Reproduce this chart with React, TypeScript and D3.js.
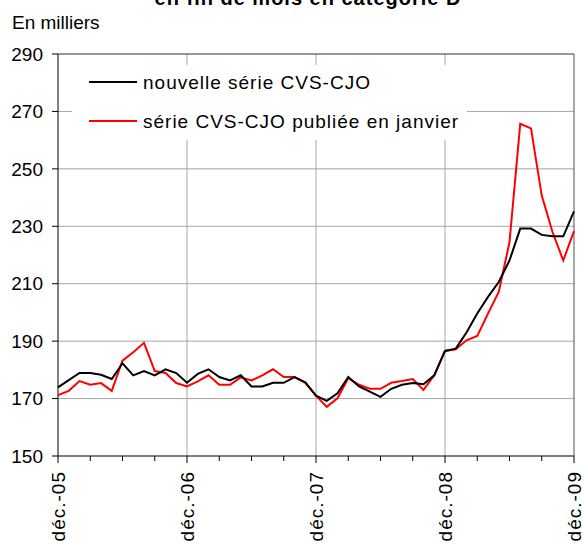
import { line, scaleLinear } from "d3";

const width = 582;
const height = 544;
const left = 58;
const right = 574;
const top = 54;
const bottom = 456;

const yTicks = [150, 170, 190, 210, 230, 250, 270, 290];
const yearLabels = ["déc.-05", "déc.-06", "déc.-07", "déc.-08", "déc.-09"];
const seriesNames = ["nouvelle série CVS-CJO", "série CVS-CJO publiée en janvier"];
const seriesColors = ["#000000", "#ff0000"];

// monthly values, déc. 2005 -> déc. 2009 (thousands)
const nouvelleSerie = [
  173.9, 176.4, 178.9, 178.9, 178.3, 176.8, 182.3, 178.1, 179.6, 178.1, 180.2, 178.9,
  175.5, 178.6, 180.2, 177.5, 176.3, 178.1, 174.2, 174.2, 175.5, 175.5, 177.5, 175.7,
  171.0, 169.2, 171.8, 177.5, 174.2, 172.4, 170.6, 173.4, 174.8, 175.4, 175.0, 178.1,
  186.6, 187.4, 193.0, 199.6, 205.4, 210.6, 218.1, 229.2, 229.2, 227.0, 226.5, 226.5,
  235.2,
];
const seriePubliee = [
  171.2, 172.7, 176.1, 174.8, 175.4, 172.7, 183.2, 186.1, 189.4, 179.6, 178.9, 175.4,
  174.2, 176.0, 178.1, 174.8, 174.8, 177.4, 176.3, 178.1, 180.2, 177.5, 177.5, 175.5,
  171.0, 167.1, 170.1, 177.1, 174.8, 173.4, 173.4, 175.5, 176.1, 176.8, 173.0, 178.1,
  186.6, 187.2, 190.3, 191.8, 199.6, 207.1, 224.5, 265.7, 264.1, 240.7, 228.0, 218.1,
  228.3,
];

const font = "'Liberation Sans', Arial, sans-serif";

export default function App() {
  const n = nouvelleSerie.length;
  const x = scaleLinear().domain([0, n - 1]).range([left, right]);
  const y = scaleLinear().domain([150, 290]).range([bottom, top]);
  const path = line<number>()
    .x((_, i) => x(i))
    .y((d) => y(d));
  const months = Array.from({ length: n }, (_, i) => i);
  const quarterTicks = months.filter((i) => i % 3 === 0);
  const yearTicks = months.filter((i) => i % 12 === 0);

  return (
    <svg
      width={width}
      height={height}
      style={{ position: "absolute", left: 0, top: 0, background: "#fff" }}
      fontFamily={font}
    >
      <text
        x={308}
        y={5}
        textAnchor="middle"
        fontSize={20}
        fontWeight="bold"
        letterSpacing={1}
      >
        en fin de mois en catégorie D
      </text>
      <text x={12} y={29} fontSize={19}>
        En milliers
      </text>

      {/* grid */}
      {yTicks.slice(1, -1).map((t) => (
        <line key={t} x1={left} x2={right} y1={y(t)} y2={y(t)} stroke="#a6a6a6" />
      ))}
      {yearTicks.slice(1, -1).map((i) => (
        <line key={i} x1={x(i)} x2={x(i)} y1={top} y2={bottom} stroke="#a6a6a6" />
      ))}
      <line x1={left} x2={right} y1={top} y2={top} stroke="#303030" />
      <line x1={right} x2={right} y1={top} y2={bottom} stroke="#505050" />

      {/* legend */}
      <rect x={72} y={65} width={395} height={75} fill="#fff" />
      {seriesNames.map((name, k) => (
        <g key={name} transform={`translate(89, ${82 + k * 39})`}>
          <line x1={0} x2={48} y1={0} y2={0} stroke={seriesColors[k]} strokeWidth={2} />
          <text x={54} y={0} dy="0.35em" fontSize={19} letterSpacing={1}>
            {name}
          </text>
        </g>
      ))}

      {/* axes */}
      <line x1={left} x2={left} y1={top} y2={bottom} stroke="#000" />
      <line x1={left} x2={right} y1={bottom} y2={bottom} stroke="#000" />
      {yTicks.map((t) => (
        <g key={t}>
          <line x1={left - 6} x2={left} y1={y(t)} y2={y(t)} stroke="#000" />
          <text x={43} y={y(t)} dy="0.35em" textAnchor="end" fontSize={19}>
            {t}
          </text>
        </g>
      ))}
      {quarterTicks.map((i) => (
        <line
          key={i}
          x1={x(i)}
          x2={x(i)}
          y1={bottom}
          y2={bottom + (i % 12 === 0 ? 7 : 5)}
          stroke="#000"
        />
      ))}
      {yearTicks.map((i, k) => (
        <text
          key={i}
          transform={`translate(${x(i)}, 471) rotate(-90)`}
          textAnchor="end"
          dy="0.35em"
          fontSize={19}
          letterSpacing={1}
        >
          {yearLabels[k]}
        </text>
      ))}

      {/* series */}
      <path d={path(seriePubliee) ?? ""} fill="none" stroke={seriesColors[1]} strokeWidth={2} />
      <path d={path(nouvelleSerie) ?? ""} fill="none" stroke={seriesColors[0]} strokeWidth={2} />
    </svg>
  );
}
